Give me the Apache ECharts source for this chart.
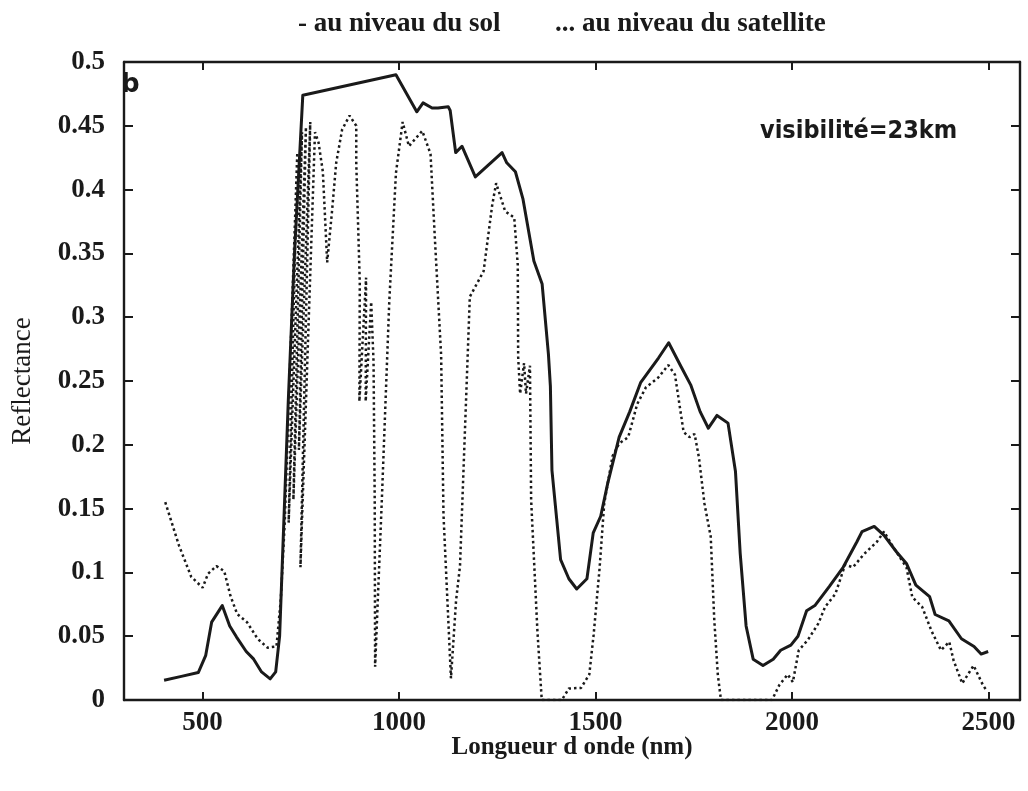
<!DOCTYPE html>
<html>
<head>
<meta charset="utf-8">
<script src="https://cdn.jsdelivr.net/npm/echarts@6/dist/echarts.min.js"></script>
<style>
html,body{margin:0;padding:0;background:#fff;}
#chart{width:1028px;height:791px;}
</style>
</head>
<body>
<div id="chart"></div>
<script>
// Wavelength (nm) ticks
const xTicks = [500, 1000, 1500, 2000, 2500];
// Ground-level reflectance ("- au niveau du sol"), [wavelength nm, reflectance]
const groundLevel = [
[402,0.0155],[446,0.0185],[489,0.0215],[508,0.035],[523,0.061],[550,0.074],[569,0.058],[586,0.0495],
[611,0.038],[630,0.032],[650,0.022],[672,0.0166],[686,0.022],[696,0.05],[718,0.234],[734,0.351],
[755,0.474],[992,0.49],[1045,0.461],[1061,0.468],[1084,0.464],[1099,0.464],[1125,0.465],[1130,0.462],
[1144,0.429],[1160,0.434],[1194,0.41],[1262,0.429],[1274,0.421],[1296,0.414],[1315,0.393],[1343,0.344],
[1364,0.326],[1380,0.271],[1385,0.246],[1389,0.18],[1401,0.142],[1411,0.11],[1432,0.095],[1452,0.087],
[1478,0.095],[1494,0.131],[1513,0.144],[1531,0.17],[1560,0.206],[1587,0.226],[1615,0.249],[1660,0.268],
[1686,0.28],[1718,0.261],[1742,0.247],[1766,0.226],[1787,0.213],[1809,0.223],[1837,0.217],[1856,0.179],
[1868,0.115],[1883,0.058],[1901,0.032],[1926,0.027],[1952,0.032],[1971,0.039],[1997,0.043],[2015,0.05],
[2037,0.07],[2058,0.074],[2095,0.089],[2130,0.104],[2165,0.124],[2178,0.132],[2209,0.136],[2234,0.129],
[2266,0.116],[2291,0.107],[2315,0.09],[2350,0.081],[2364,0.067],[2399,0.062],[2431,0.048],[2463,0.042],
[2481,0.036],[2499,0.038]
];
// Satellite-level reflectance ("... au niveau du satellite"), [wavelength nm, reflectance]
const satelliteLevel = [
[405,0.155],[440,0.121],[471,0.0966],[500,0.088],[514,0.099],[535,0.105],[555,0.101],[571,0.0815],
[588,0.0674],[613,0.061],[640,0.048],[665,0.041],[688,0.042],[699,0.079],[709,0.139],[741,0.429],
[719,0.139],[753,0.445],[731,0.157],[763,0.449],[745,0.196],[774,0.453],[749,0.104],[786,0.445],
[795,0.437],[806,0.414],[811,0.382],[817,0.343],[829,0.382],[840,0.421],[855,0.447],[874,0.458],
[891,0.45],[891,0.421],[896,0.369],[900,0.327],[899,0.234],[916,0.331],[915,0.234],[929,0.312],
[935,0.265],[938,0.156],[939,0.026],[956,0.156],[975,0.312],[992,0.413],[1009,0.453],[1025,0.434],
[1059,0.446],[1080,0.428],[1090,0.368],[1107,0.27],[1113,0.145],[1132,0.017],[1145,0.078],[1155,0.105],
[1180,0.316],[1215,0.336],[1237,0.388],[1247,0.405],[1270,0.383],[1293,0.378],[1302,0.341],[1303,0.269],
[1308,0.24],[1318,0.264],[1323,0.24],[1333,0.262],[1336,0.157],[1352,0.054],[1363,0.0],[1414,0.0],
[1432,0.009],[1463,0.0095],[1484,0.02],[1495,0.051],[1510,0.1025],[1522,0.154],[1543,0.191],[1560,0.201],
[1583,0.206],[1606,0.232],[1628,0.245],[1659,0.2525],[1685,0.2625],[1702,0.255],[1724,0.21],[1739,0.206],
[1752,0.2085],[1763,0.19],[1777,0.154],[1793,0.128],[1802,0.063],[1811,0.02],[1819,0.0],[1949,0.0],
[1968,0.012],[1989,0.02],[2002,0.014],[2017,0.039],[2040,0.047],[2067,0.06],[2084,0.073],[2110,0.083],
[2135,0.106],[2155,0.104],[2182,0.114],[2216,0.124],[2234,0.132],[2259,0.119],[2291,0.104],[2306,0.0805],
[2331,0.073],[2355,0.054],[2379,0.039],[2400,0.0456],[2411,0.031],[2433,0.013],[2462,0.027],[2486,0.0115],
[2496,0.007]
];
const legendSolid = '- au niveau du sol';
const legendDotted = '... au niveau du satellite';
const xName = 'Longueur d onde (nm)';
const yName = 'Reflectance';
const panelLabel = 'b';
const noteText = 'visibilité=23km';

const serif = '"Liberation Serif", "DejaVu Serif", serif';
const ink = '#1a1a1a';
const chart = echarts.init(document.getElementById('chart'), null, {renderer: 'canvas'});
const axisLine = {show: true, onZero: false, lineStyle: {color: ink, width: 2.4}};
const plain = v => String(v);
chart.setOption({
  animation: false,
  backgroundColor: '#ffffff',
  grid: {left: 124, right: 8, top: 62, bottom: 91, containLabel: false},
  graphic: [
    {type: 'text', left: 298, top: 11, style: {text: legendSolid, font: 'bold 27px ' + serif, fill: ink}},
    {type: 'text', left: 555, top: 11, style: {text: legendDotted, font: 'bold 27px ' + serif, fill: ink}},
    {type: 'text', left: 121, top: 72, style: {text: panelLabel, font: 'bold 26px "DejaVu Sans", sans-serif', fill: ink}},
    {type: 'text', left: 760, top: 119, style: {text: noteText, font: 'bold 25px "DejaVu Sans Condensed", "DejaVu Sans", sans-serif', fill: ink}}
  ],
  xAxis: [
    {type: 'value', min: 300, max: 2580, position: 'bottom',
     name: xName, nameLocation: 'middle', nameGap: 35, nameMoveOverlap: false,
     nameTextStyle: {color: ink, fontFamily: serif, fontWeight: 'bold', fontSize: 25},
     axisLine: axisLine,
     axisTick: {show: true, inside: true, length: 8, customValues: xTicks, lineStyle: {color: ink, width: 2}},
     axisLabel: {show: true, customValues: xTicks, formatter: plain, margin: 10, color: ink, fontFamily: serif, fontWeight: 'bold', fontSize: 27},
     splitLine: {show: false}},
    {type: 'value', min: 300, max: 2580, position: 'top',
     axisLine: axisLine,
     axisTick: {show: true, inside: true, length: 8, customValues: xTicks, lineStyle: {color: ink, width: 2}},
     axisLabel: {show: false}, splitLine: {show: false}}
  ],
  yAxis: [
    {type: 'value', min: 0, max: 0.5, interval: 0.05, position: 'left',
     name: yName, nameLocation: 'middle', nameGap: 88, nameRotate: 90, nameMoveOverlap: false,
     nameTextStyle: {color: ink, fontFamily: serif, fontWeight: 'normal', fontSize: 27},
     axisLine: axisLine,
     axisTick: {show: true, inside: true, length: 9, lineStyle: {color: ink, width: 2}},
     axisLabel: {show: true, formatter: plain, margin: 19, color: ink, fontFamily: serif, fontWeight: 'bold', fontSize: 27},
     splitLine: {show: false}},
    {type: 'value', min: 0, max: 0.5, interval: 0.05, position: 'right',
     axisLine: axisLine,
     axisTick: {show: true, inside: true, length: 9, lineStyle: {color: ink, width: 2}},
     axisLabel: {show: false}, splitLine: {show: false}}
  ],
  series: [
    {name: 'au niveau du sol', type: 'line', xAxisIndex: 0, yAxisIndex: 0, data: groundLevel,
     showSymbol: false, symbol: 'none', smooth: false,
     lineStyle: {color: ink, width: 3, type: 'solid', join: 'round'}},
    {name: 'au niveau du satellite', type: 'line', xAxisIndex: 0, yAxisIndex: 0, data: satelliteLevel,
     showSymbol: false, symbol: 'none', smooth: false,
     lineStyle: {color: ink, width: 2.5, type: [2.5, 3]}}
  ]
});
</script>
</body>
</html>
